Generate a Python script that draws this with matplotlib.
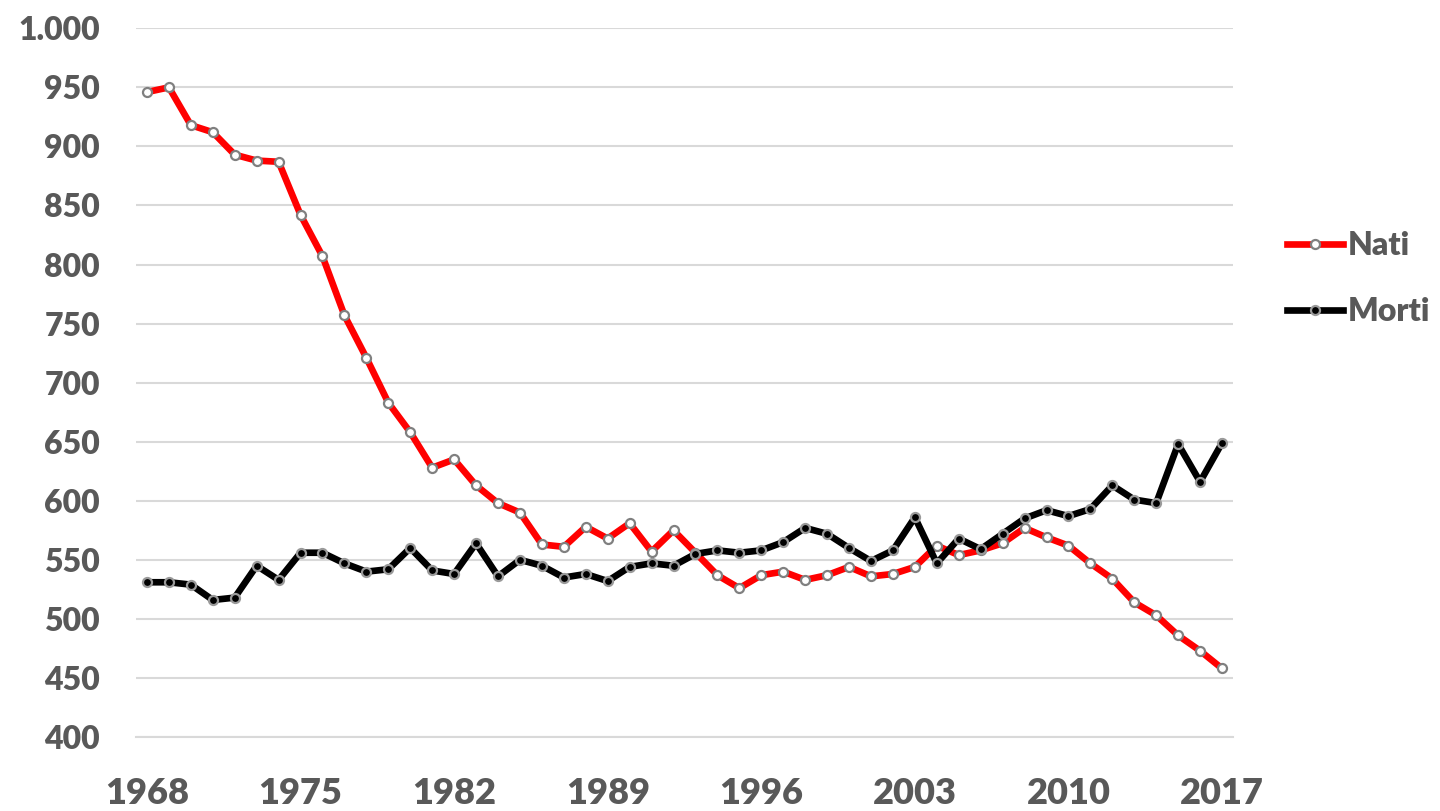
"""Nati e morti per anno, 1968-2017 (line chart in Excel style)."""

import matplotlib

matplotlib.use("Agg")
import matplotlib.pyplot as plt
from matplotlib.ticker import FuncFormatter, MultipleLocator

years = list(range(1968, 2018))

nati = [
    946, 950, 918, 912, 893, 888, 887, 842, 807, 757,
    721, 683, 658, 628, 635, 613, 598, 590, 563, 561,
    578, 568, 581, 557, 575, 556, 537, 526, 537, 540,
    533, 537, 544, 536, 538, 544, 562, 554, 558, 564,
    577, 569, 562, 547, 534, 514, 503, 486, 473, 458,
]

morti = [
    531, 531, 529, 516, 518, 545, 533, 556, 556, 547,
    540, 542, 560, 541, 538, 564, 536, 550, 545, 535,
    538, 532, 544, 547, 545, 555, 558, 556, 558, 565,
    577, 572, 560, 549, 558, 586, 547, 568, 559, 572,
    585, 592, 587, 593, 613, 601, 598, 648, 616, 649,
]

series_labels = ["Nati", "Morti"]
x_tick_years = list(range(1968, 2018, 7))

TEXT_COLOR = "#595959"
GRID_COLOR = "#d9d9d9"
FONT = ["Lato", "DejaVu Sans"]
WEIGHT = "heavy"

fig = plt.figure(figsize=(14.4, 8.11), dpi=100)
ax = fig.add_axes([136 / 1440, 1 - 737 / 811, (1233 - 136) / 1440, (737 - 28.3) / 811])

ax.plot(years, nati, color="#ff0000", lw=4.8, marker="o", ms=6.5,
        mfc="white", mec="#808080", mew=1.6, label=series_labels[0], zorder=3)
ax.plot(years, morti, color="black", lw=4.8, marker="o", ms=6.5,
        mfc="black", mec="#9a9a9a", mew=1.6, label=series_labels[1], zorder=4)

ax.set_xlim(1967.5, 2017.5)
ax.set_ylim(400, 1000)
ax.yaxis.set_major_locator(MultipleLocator(50))
ax.yaxis.set_major_formatter(FuncFormatter(lambda v, _: f"{v:,.0f}".replace(",", ".")))
ax.set_xticks(x_tick_years)

ax.grid(axis="y", color=GRID_COLOR, lw=1.5)
ax.set_axisbelow(True)
for side in ("top", "right", "left"):
    ax.spines[side].set_visible(False)
ax.spines["bottom"].set_color(GRID_COLOR)
ax.spines["bottom"].set_linewidth(1.5)
ax.tick_params(length=0)
ax.tick_params(axis="y", pad=26, labelsize=23, labelcolor=TEXT_COLOR)
ax.tick_params(axis="x", pad=29, labelsize=26, labelcolor=TEXT_COLOR)
for lbl in ax.get_xticklabels() + ax.get_yticklabels():
    lbl.set_family(FONT)
    lbl.set_fontweight(WEIGHT)

leg = fig.legend(loc="center left", bbox_to_anchor=(1287 / 1440, 1 - 278.7 / 811),
                 frameon=False, borderpad=0, borderaxespad=0, numpoints=1,
                 handlelength=1.75, handletextpad=0.15, labelspacing=1.15,
                 prop={"family": FONT, "weight": WEIGHT, "size": 23})
for t in leg.get_texts():
    t.set_color(TEXT_COLOR)

fig.savefig("out.png", dpi=100)
plt.close(fig)
